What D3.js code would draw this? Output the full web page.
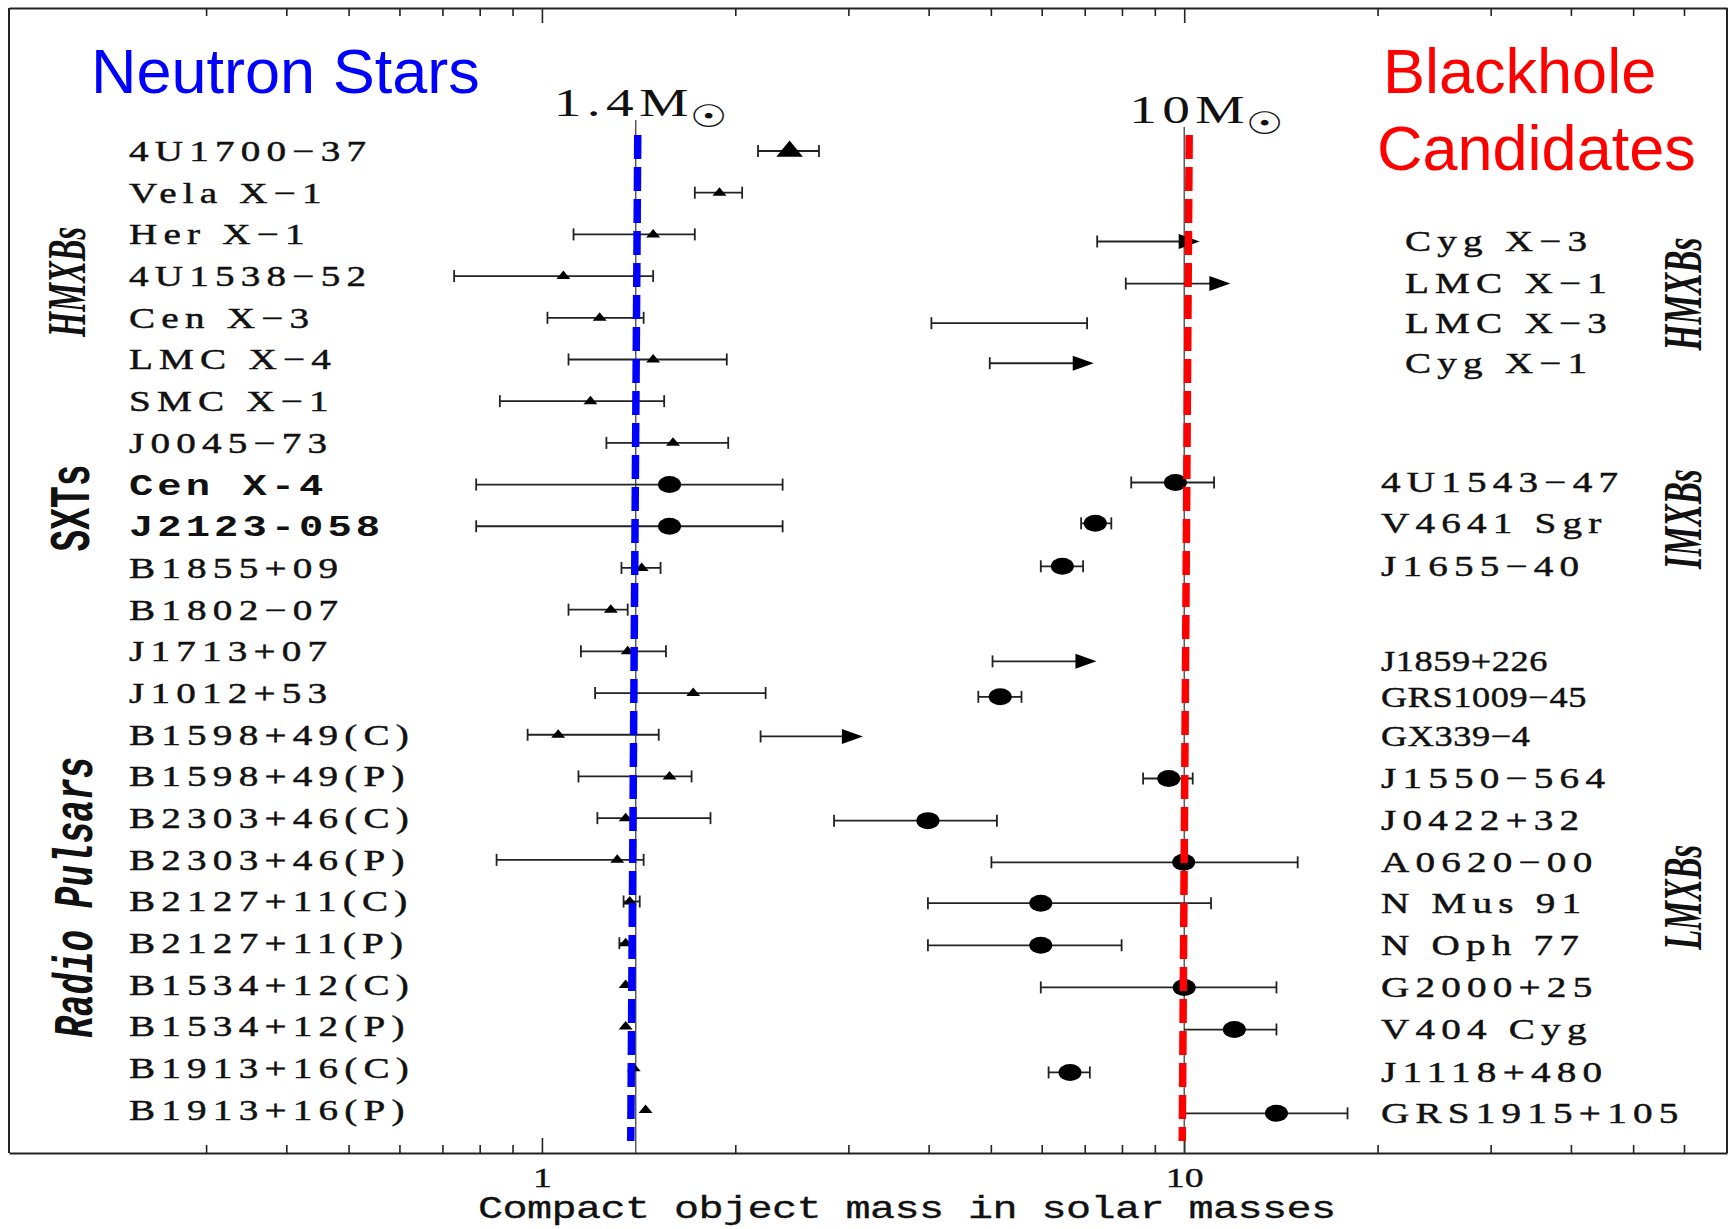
<!DOCTYPE html>
<html>
<head>
<meta charset="utf-8">
<script src="https://cdn.jsdelivr.net/npm/d3@7"></script>
<style>
  body { margin: 0; background: #fff; }
</style>
</head>
<body>
<div id="chart"></div>
<script>
// Neutron stars (labels on the left), masses in solar masses
const nsNames = ["4U1700−37", "Vela X−1", "Her X−1", "4U1538−52", "Cen X−3", "LMC X−4", "SMC X−1",
  "J0045−73", "Cen X-4", "J2123-058", "B1855+09", "B1802−07", "J1713+07", "J1012+53",
  "B1598+49(C)", "B1598+49(P)", "B2303+46(C)", "B2303+46(P)", "B2127+11(C)", "B2127+11(P)",
  "B1534+12(C)", "B1534+12(P)", "B1913+16(C)", "B1913+16(P)"];
const nsMass = [2.43, 1.89, 1.49, 1.08, 1.23, 1.49, 1.19, 1.60, 1.58, 1.58, 1.43, 1.28, 1.36, 1.72,
  1.06, 1.58, 1.35, 1.31, 1.37, 1.35, 1.35, 1.35, 1.39, 1.45];
const nsLow = [2.17, 1.73, 1.12, 0.73, 1.02, 1.10, 0.86, 1.26, 0.79, 0.79, 1.33, 1.10, 1.15, 1.21,
  0.95, 1.14, 1.22, 0.85, 1.34, 1.32, null, null, null, null];
const nsHigh = [2.70, 2.05, 1.73, 1.49, 1.44, 1.94, 1.55, 1.95, 2.37, 2.37, 1.53, 1.36, 1.56, 2.23,
  1.52, 1.71, 1.83, 1.44, 1.42, 1.39, null, null, null, null];
const nsKind = ["tri", "tri", "tri", "tri", "tri", "tri", "tri", "tri", "dot", "dot", "tri", "tri",
  "tri", "tri", "tri", "tri", "tri", "tri", "tri", "tri", "tri", "tri", "tri", "tri"];

// Black hole candidates (labels on the right); arrows are lower limits (low -> tip)
const bhNames = ["Cyg X−3", "LMC X−1", "LMC X−3", "Cyg X−1", "4U1543−47", "V4641 Sgr", "J1655−40",
  "J1859+226", "GRS1009−45", "GX339−4", "J1550−564", "J0422+32", "A0620−00", "N Mus 91",
  "N Oph 77", "G2000+25", "V404 Cyg", "J1118+480", "GRS1915+105"];
const bhRow = [2.17, 3.18, 4.13, 5.09, 7.95, 8.93, 9.96, 12.24, 13.09, 14.04, 15.05, 16.06, 17.06,
  18.04, 19.05, 20.06, 21.07, 22.1, 23.08];
const bhKind = ["arrow", "arrow", "range", "arrow", "dot", "dot", "dot", "arrow", "dot", "arrow",
  "dot", "dot", "dot", "dot", "dot", "dot", "dot", "dot", "dot"];
const bhMass = [10.57, 11.8, null, 7.23, 9.69, 7.27, 6.46, 7.30, 5.17, 3.16, 9.46, 3.99, 9.98,
  5.98, 5.98, 10.0, 11.97, 6.64, 13.92];
const bhLow = [7.32, 8.11, 4.04, 4.98, 8.27, 6.91, 5.98, 5.03, 4.78, 2.19, 8.63, 2.85, 5.01,
  3.99, 3.99, 5.98, 10.0, 6.15, 10.0];
const bhHigh = [null, null, 7.06, null, 11.13, 7.70, 6.96, null, 5.58, null, 10.31, 5.11, 15.02,
  11.01, 7.99, 13.92, 13.92, 7.13, 17.96];

// reference masses and axis ticks
const refMasses = [1.4, 10];
const majorTicks = [1, 10];
const minorTicks = [0.3, 0.4, 0.5, 0.6, 0.7, 0.8, 0.9, 2, 3, 4, 5, 6, 7, 8, 9, 20, 30, 40, 50, 60];

// group labels
const groupNames = ["HMXBs", "SXTs", "Radio Pulsars", "HMXBs", "IMXBs", "LMXBs"];
const groupRows = [3.14, 8.56, 17.9, 3.43, 8.83, 17.9];
const groupSide = ["left", "left", "left", "right", "right", "right"];

const W = 1732, H = 1229;
const frame = { left: 9, right: 1727, top: 8, bottom: 1153 };
const serif = "'Liberation Serif', 'DejaVu Serif', serif";
const mono = "'Liberation Mono', 'DejaVu Sans Mono', monospace";
const sans = "'Liberation Sans', Arial, sans-serif";
const stretch = 1.35;   // the scanned figure is widened horizontally

const svg = d3.select("#chart")
  .append("svg")
  .attr("width", W)
  .attr("height", H);

const x = d3.scaleLog().domain([0.148, 70]).range([frame.left, frame.right]);
const y = d3.scaleLinear().domain([0, 23]).range([151, 1110]);

// frame sides
svg.append("line").attr("x1", frame.left).attr("x2", frame.left)
  .attr("y1", frame.top).attr("y2", frame.bottom).attr("stroke", "#222").attr("stroke-width", 2);
svg.append("line").attr("x1", frame.right).attr("x2", frame.right)
  .attr("y1", frame.top).attr("y2", frame.bottom).attr("stroke", "#222").attr("stroke-width", 2);

// bottom axis: minor ticks + frame line
svg.append("g")
  .attr("transform", `translate(0,${frame.bottom})`)
  .call(d3.axisBottom(x).tickValues(minorTicks).tickSize(-8).tickSizeOuter(0).tickFormat(""));
const bottomMajor = svg.append("g")
  .attr("transform", `translate(0,${frame.bottom})`)
  .call(d3.axisBottom(x).tickValues(majorTicks).tickSize(-15).tickSizeOuter(0)
    .tickPadding(14).tickFormat(d3.format("d")));
bottomMajor.select(".domain").remove();

svg.append("g")
  .attr("transform", `translate(0,${frame.top})`)
  .call(d3.axisTop(x).tickValues(minorTicks).tickSize(-8).tickSizeOuter(0).tickFormat(""));
const topMajor = svg.append("g")
  .attr("transform", `translate(0,${frame.top})`)
  .call(d3.axisTop(x).tickValues(majorTicks).tickSize(-15).tickSizeOuter(0).tickFormat(""));
topMajor.select(".domain").remove();

svg.selectAll(".domain").attr("stroke", "#222").attr("stroke-width", 2);
svg.selectAll(".tick line").attr("stroke", "#222").attr("stroke-width", 1.6);
bottomMajor.selectAll(".tick text")
  .attr("font-family", serif)
  .attr("font-size", 28)
  .attr("fill", "#111")
  .attr("stroke", "#111")
  .attr("stroke-width", 0.4)
  .attr("transform", `scale(${stretch},1)`);

svg.append("text")
  .attr("transform", `translate(478,1218) scale(${stretch},1)`)
  .attr("font-family", mono)
  .attr("font-size", 31)
  .attr("letter-spacing", -0.45)
  .attr("fill", "#111")
  .attr("stroke", "#111")
  .attr("stroke-width", 0.3)
  .text("Compact object mass in solar masses");

// thin reference lines of the original figure
refMasses.forEach((m, i) => {
  svg.append("line")
    .attr("x1", x(m)).attr("x2", x(m))
    .attr("y1", i === 0 ? 120 : 127).attr("y2", frame.bottom)
    .attr("stroke", "#333").attr("stroke-width", 1.2);
});

// reference labels 1.4 M_sun and 10 M_sun
refMasses.forEach((m, i) => {
  const t = svg.append("text")
    .attr("transform", `translate(${x(m) - (i === 0 ? 82 : 55)},${i === 0 ? 116 : 123}) scale(${stretch},1)`)
    .attr("font-family", serif)
    .attr("font-size", 41)
    .attr("letter-spacing", 4)
    .attr("fill", "#111");
  t.append("tspan").text(`${m}M`);
  t.append("tspan")
    .attr("font-family", "'DejaVu Sans', sans-serif")
    .attr("font-size", 31)
    .attr("dy", 11)
    .attr("dx", -3)
    .attr("letter-spacing", 0)
    .text("☉");
});

// error bars
function errorBar(g, lo, hi, yy, caps) {
  g.append("line").attr("x1", x(lo)).attr("x2", x(hi)).attr("y1", yy).attr("y2", yy)
    .attr("stroke", "#222").attr("stroke-width", 1.8);
  caps.forEach(v => {
    g.append("line").attr("x1", x(v)).attr("x2", x(v)).attr("y1", yy - 6).attr("y2", yy + 6)
      .attr("stroke", "#222").attr("stroke-width", 1.8);
  });
}

const marks = svg.append("g");

// neutron star points
nsNames.forEach((name, i) => {
  const yy = y(i);
  if (nsLow[i] != null) errorBar(marks, nsLow[i], nsHigh[i], yy, [nsLow[i], nsHigh[i]]);
  if (nsKind[i] === "dot") {
    marks.append("ellipse").attr("cx", x(nsMass[i])).attr("cy", yy)
      .attr("rx", 11.5).attr("ry", 8.5).attr("fill", "#000");
  } else {
    const s = i === 0 ? 1.9 : 1;
    marks.append("path")
      .attr("transform", `translate(${x(nsMass[i])},${yy}) scale(${s})`)
      .attr("d", "M-7,3L7,3L0,-5.5Z")
      .attr("fill", "#000");
  }
});

// black hole points
bhNames.forEach((name, i) => {
  const yy = y(bhRow[i]);
  if (bhKind[i] === "arrow") {
    const tip = x(bhMass[i]);
    marks.append("line").attr("x1", x(bhLow[i])).attr("x2", tip - 18).attr("y1", yy).attr("y2", yy)
      .attr("stroke", "#222").attr("stroke-width", 1.8);
    marks.append("line").attr("x1", x(bhLow[i])).attr("x2", x(bhLow[i]))
      .attr("y1", yy - 6).attr("y2", yy + 6).attr("stroke", "#222").attr("stroke-width", 1.8);
    marks.append("path")
      .attr("transform", `translate(${tip},${yy})`)
      .attr("d", "M-21,-7.5L0,0L-21,7.5Z")
      .attr("fill", "#000");
  } else {
    const caps = bhLow[i] === 10 ? [bhHigh[i]] : [bhLow[i], bhHigh[i]];
    errorBar(marks, bhLow[i], bhHigh[i], yy, caps);
    if (bhKind[i] === "dot") {
      marks.append("ellipse").attr("cx", x(bhMass[i])).attr("cy", yy)
        .attr("rx", 11.5).attr("ry", 8.5).attr("fill", "#000");
    }
  }
});

// coloured dashed lines for 1.4 and 10 solar masses (slightly tilted, as scanned)
const dashedTop = [1.41, 10.18];
const dashedBottom = [1.375, 9.93];
const dashColors = ["#0000ff", "#ff0000"];
refMasses.forEach((m, i) => {
  svg.append("line")
    .attr("x1", x(dashedTop[i])).attr("x2", x(dashedBottom[i]))
    .attr("y1", 135).attr("y2", 1141)
    .attr("stroke", dashColors[i])
    .attr("stroke-width", 7.5)
    .attr("stroke-dasharray", "24 8");
});

// name labels
const boldNames = new Set(["Cen X-4", "J2123-058"]);
const tightNames = new Set(["J1859+226", "GRS1009−45", "GX339−4"]);
const hmxbRight = new Set(["Cyg X−3", "LMC X−1", "LMC X−3", "Cyg X−1"]);

function nameLabel(name, lx, yy) {
  const bold = boldNames.has(name);
  const tight = tightNames.has(name);
  svg.append("text")
    .attr("transform", `translate(${lx},${yy}) scale(${tight ? 1.25 : stretch},1)`)
    .attr("dy", "0.34em")
    .attr("font-family", bold ? mono : serif)
    .attr("font-weight", bold ? "bold" : "normal")
    .attr("font-size", bold ? 30 : 29)
    .attr("letter-spacing", bold ? 3 : (tight ? 0.5 : 4.6))
    .attr("fill", "#111")
    .attr("stroke", "#111")
    .attr("stroke-width", bold ? 0 : 0.45)
    .text(name);
}
nsNames.forEach((name, i) => nameLabel(name, 129, y(i)));
bhNames.forEach((name, i) => nameLabel(name, hmxbRight.has(name) ? 1405 : 1381, y(bhRow[i])));

// rotated group labels
const groupLayout = [
  { x: 66, len: 110, font: serif, style: "italic", weight: "bold", size: 54 },
  { x: 69, len: 87, font: mono, style: "normal", weight: "bold", size: 58 },
  { x: 72, len: 281, font: mono, style: "italic", weight: "bold", size: 56 },
  { x: 1682, len: 113, font: serif, style: "italic", weight: "bold", size: 54 },
  { x: 1682, len: 100, font: serif, style: "italic", weight: "bold", size: 54 },
  { x: 1682, len: 105, font: serif, style: "italic", weight: "bold", size: 54 }
];
groupNames.forEach((name, i) => {
  const L = groupLayout[i];
  svg.append("text")
    .attr("transform", `translate(${L.x},${y(groupRows[i])}) rotate(-90)`)
    .attr("text-anchor", "middle")
    .attr("dy", "0.35em")
    .attr("font-family", L.font)
    .attr("font-style", L.style)
    .attr("font-weight", L.weight)
    .attr("font-size", L.size)
    .attr("textLength", L.len)
    .attr("lengthAdjust", "spacingAndGlyphs")
    .attr("fill", "#111")
    .text(name);
});

// coloured headings
svg.append("text")
  .attr("x", 91).attr("y", 93)
  .attr("font-family", sans).attr("font-size", 63)
  .attr("fill", "#0000ff")
  .text("Neutron Stars");
svg.append("text")
  .attr("x", 1383).attr("y", 93)
  .attr("font-family", sans).attr("font-size", 63)
  .attr("fill", "#ff0000")
  .text("Blackhole");
svg.append("text")
  .attr("x", 1377).attr("y", 170)
  .attr("font-family", sans).attr("font-size", 63)
  .attr("fill", "#ff0000")
  .text("Candidates");
</script>
</body>
</html>
